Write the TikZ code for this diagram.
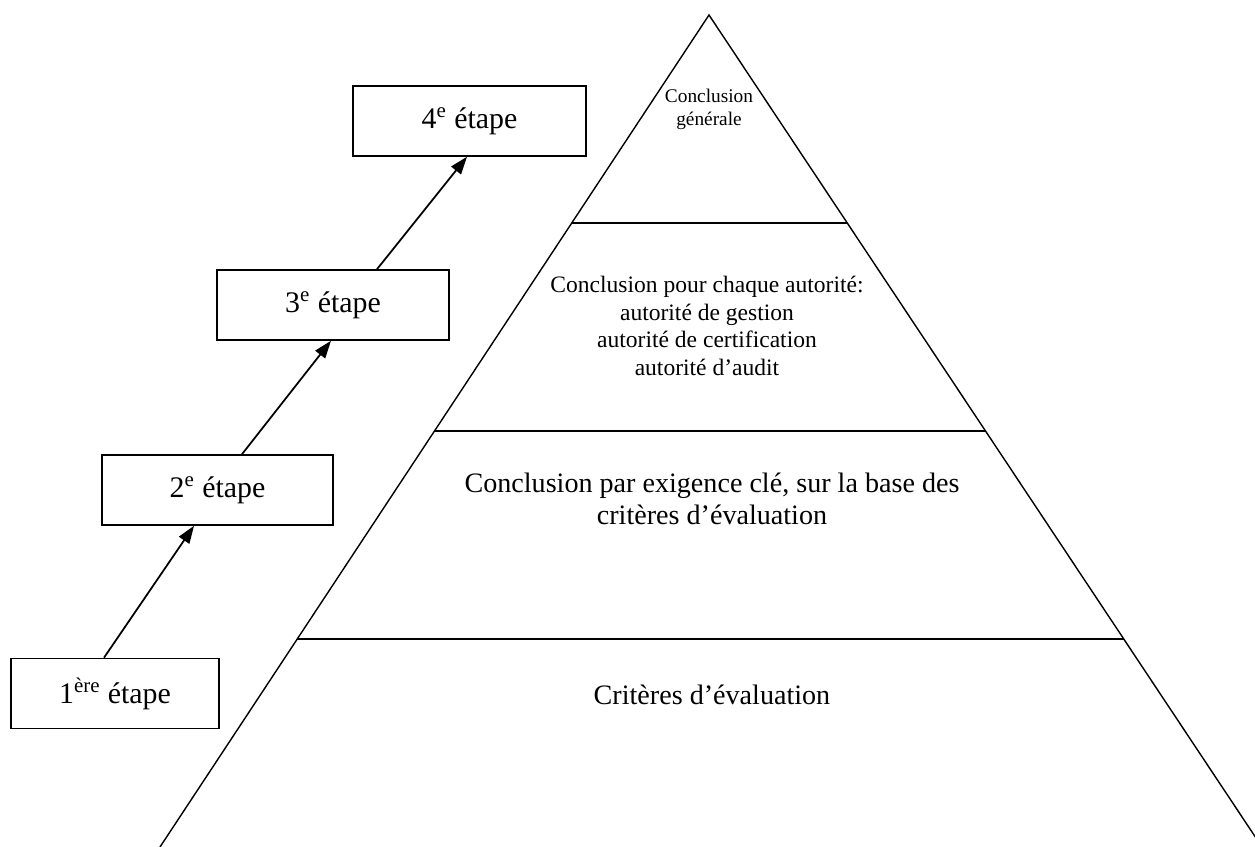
\documentclass[tikz,border=0pt]{standalone}
\usepackage{fontspec}
\setmainfont{Liberation Serif}
\usetikzlibrary{calc,arrows.meta}

\begin{document}
\begin{tikzpicture}[x=0.02cm,y=-0.02cm,
    etape/.style={draw, line width=0.9pt, minimum width=4.64cm, minimum height=1.4cm,
        inner sep=0pt, font=\fontsize{17}{20}\selectfont},
    fleche/.style={-{Triangle[length=10pt,width=7pt]}, line width=1pt},
    niveau/.style={align=center, inner sep=0pt}]
    \clip (0,0) rectangle (1255,847);
    %la pyramide, coupee en quatre niveaux de meme hauteur
    \coordinate (sommet) at (709,15);
    \coordinate (bg) at (160,847);
    \coordinate (bd) at (1262,847);
    \draw[line width=0.8pt] (bg) -- (sommet) -- (bd);
    \foreach \t in {0.25,0.5,0.75}
        \draw[line width=0.8pt] ($(sommet)!\t!(bg)$) -- ($(sommet)!\t!(bd)$);

    \node[niveau, font=\fontsize{11}{13}\selectfont] (tgen) at (709,109)
        {Conclusion\\générale};
    \node[niveau, font=\fontsize{13.4}{15.7}\selectfont] (tauth) at (707,326)
        {Conclusion pour chaque autorité:\\autorité de gestion\\autorité de certification\\autorité d’audit};
    \node[niveau, font=\fontsize{16}{18.2}\selectfont] (tcle) at (712,499)
        {Conclusion par exigence clé, sur la base des\\critères d’évaluation};
    \node[niveau, font=\fontsize{16}{18.2}\selectfont] (tcrit) at (712,695)
        {Critères d’évaluation};

    %les etapes
    \node[etape, minimum width=4.16cm] (e1) at (115,693.5) {1\textsuperscript{ère} étape};
    \node[etape, minimum width=4.62cm] (e2) at (217.5,490) {2\textsuperscript{e} étape};
    \node[etape] (e3) at (333,305) {3\textsuperscript{e} étape};
    \node[etape, minimum width=4.66cm] (e4) at (469.5,121) {4\textsuperscript{e} étape};

    \draw[fleche] ($(e1.north)+(-11,0)$) -- ($(e2.south)+(-23.5,0)$);
    \draw[fleche] ($(e2.north)+(24.5,0)$) -- ($(e3.south)+(-2,0)$);
    \draw[fleche] ($(e3.north)+(44,0)$) -- ($(e4.south)+(-2.5,0)$);
\end{tikzpicture}
\end{document}
